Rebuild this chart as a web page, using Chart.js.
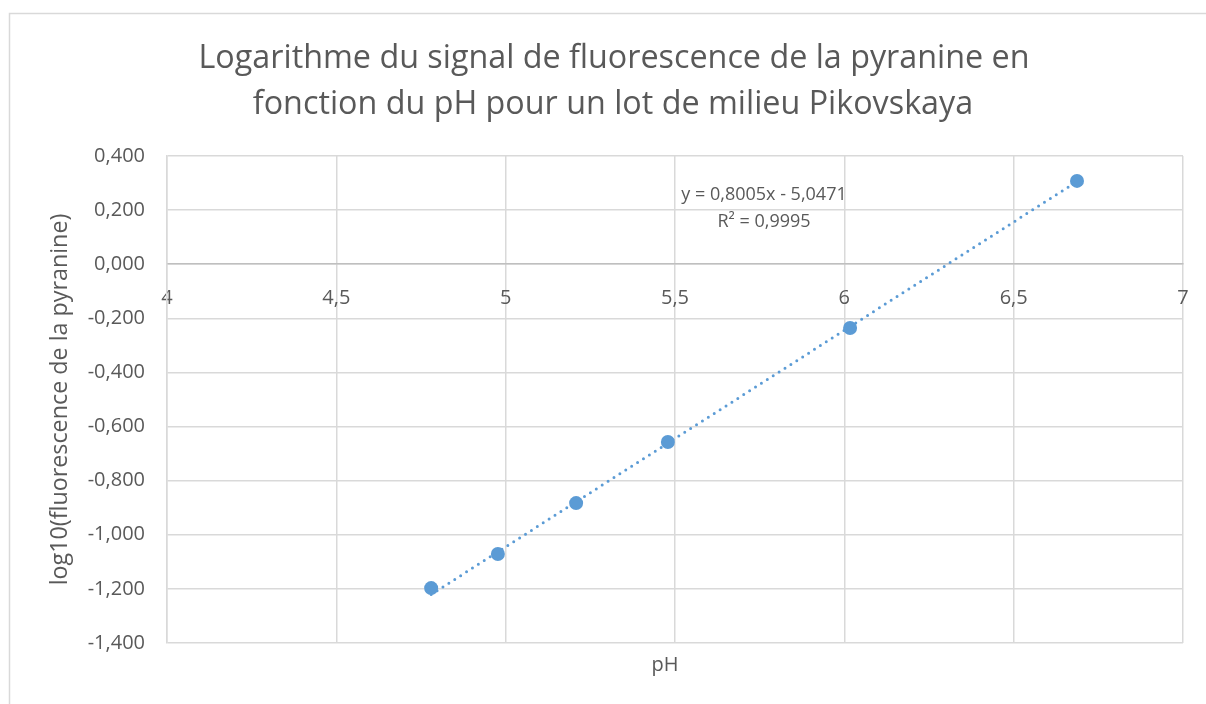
<!DOCTYPE html>
<html>
<head>
<meta charset="utf-8">
<script src="https://cdn.jsdelivr.net/npm/chart.js@4/dist/chart.umd.min.js"></script>
<style>
  html, body { margin: 0; padding: 0; background: #fff; }
  #wrap { width: 1206px; height: 704px; }
</style>
</head>
<body>
<div id="wrap"><canvas id="chart" width="1206" height="704"></canvas></div>
<script>
// ---- data ----
const phValues = [4.78, 4.977, 5.208, 5.479, 6.017, 6.687];
const logFluo = [-1.197, -1.071, -0.883, -0.657, -0.236, 0.308];
const xTicks = [4, 4.5, 5, 5.5, 6, 6.5, 7];
const yTicks = [0.4, 0.2, 0, -0.2, -0.4, -0.6, -0.8, -1.0, -1.2, -1.4];
const titleLines = ['Logarithme du signal de fluorescence de la pyranine en', 'fonction du pH pour un lot de milieu Pikovskaya'];
const yTitle = 'log10(fluorescence de la pyranine)';
const xTitle = 'pH';
// linear trendline as printed on the chart
const slope = 0.8005;
const intercept = -5.0471;
const eqLines = ['y = 0,8005x - 5,0471', 'R² = 0,9995'];

const FONT = "'Open Sans', sans-serif";
const TXT = '#595959';
const GRID = '#d9d9d9';
const BLUE = '#5b9bd5';

const points = phValues.map((x, i) => ({ x, y: logFluo[i] }));
const xMin = Math.min(...phValues), xMax = Math.max(...phValues);
const trend = [xMin, xMax].map(x => ({ x, y: slope * x + intercept }));

const fmtComma = (v, d) => v.toFixed(d).replace('.', ',');

// pick a font size so that a text runs about `w` pixels wide
function fitFont(c, text, weight, w) {
  c.font = weight + ' 20px ' + FONT;
  const size = 20 * w / c.measureText(text).width;
  return weight + ' ' + size.toFixed(1) + 'px ' + FONT;
}

// frame, titles and equation text
const decor = {
  id: 'decor',
  beforeDraw(chart) {
    const c = chart.ctx;
    c.save();
    c.strokeStyle = GRID;
    c.lineWidth = 1.5;
    c.strokeRect(9.5, 13.5, 1400, 900);
    c.restore();
  },
  afterDraw(chart) {
    const c = chart.ctx, a = chart.chartArea;
    c.save();
    c.fillStyle = TXT;
    c.textAlign = 'center';
    c.textBaseline = 'middle';
    c.font = fitFont(c, titleLines[0], 400, 832);
    c.fillText(titleLines[0], 614, 59);
    c.fillText(titleLines[1], 613, 105);

    c.font = '18px ' + FONT;
    c.fillText(eqLines[0], 764, 195);
    c.fillText(eqLines[1], 764, 222);

    c.font = '20px ' + FONT;
    c.fillText(xTitle, 665, 665);
    c.font = fitFont(c, yTitle, 400, 372);
    c.translate(60, (a.top + a.bottom) / 2);
    c.rotate(-Math.PI / 2);
    c.fillText(yTitle, 0, 0);
    c.restore();
  }
};

new Chart(document.getElementById('chart'), {
  type: 'scatter',
  data: {
    datasets: [
      {
        label: 'trend',
        data: trend,
        showLine: true,
        borderColor: BLUE,
        borderWidth: 3,
        borderDash: [0, 7],
        borderCapStyle: 'round',
        pointRadius: 0,
        fill: false,
        order: 2
      },
      {
        label: 'pH',
        data: points,
        backgroundColor: BLUE,
        borderColor: BLUE,
        pointRadius: 7,
        pointBorderWidth: 0,
        order: 1
      }
    ]
  },
  options: {
    responsive: false,
    animation: false,
    layout: { padding: { left: 20, right: 23, top: 156, bottom: 61 } },
    plugins: { legend: { display: false }, tooltip: { enabled: false }, title: { display: false } },
    scales: {
      x: {
        type: 'linear',
        position: { y: 0 },
        min: 4, max: 7,
        afterBuildTicks: s => { s.ticks = xTicks.map(v => ({ value: v })); },
        afterFit: s => { s.paddingLeft = 0; s.paddingRight = 0; },
        ticks: {
          color: TXT,
          font: { family: FONT, size: 20 },
          padding: 0,
          maxRotation: 0,
          callback: v => String(v).replace('.', ',')
        },
        // invisible tick marks push the labels down below the zero line
        grid: { color: GRID, lineWidth: 1.5, drawTicks: true, tickLength: 22, tickColor: 'rgba(0,0,0,0)' },
        border: { color: '#bfbfbf', width: 1.5 }
      },
      y: {
        type: 'linear',
        min: -1.4, max: 0.4,
        afterBuildTicks: s => { s.ticks = yTicks.map(v => ({ value: v })); },
        afterFit: s => { s.width = 147; },
        ticks: {
          color: TXT,
          font: { family: FONT, size: 20 },
          padding: 22,
          callback: v => fmtComma(v, 3)
        },
        grid: { color: GRID, lineWidth: 1.5, drawTicks: false },
        border: { color: GRID, width: 1.5 }
      }
    }
  },
  plugins: [decor]
});
</script>
</body>
</html>
